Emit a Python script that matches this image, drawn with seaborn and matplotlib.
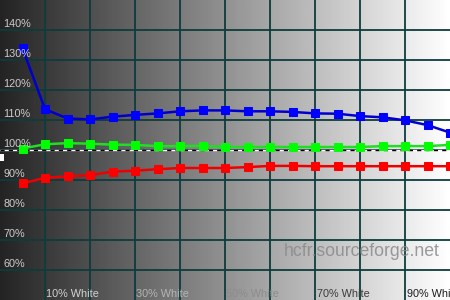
import numpy as np
import pandas as pd
import matplotlib
matplotlib.use("Agg")
import matplotlib.pyplot as plt
import matplotlib.patches as mpatches
import matplotlib.transforms as mtrans
import seaborn as sns

# ---- data ----
levels = [0, 5, 10, 15, 20, 25, 30, 35, 40, 45, 50, 55, 60, 65, 70, 75, 80, 85, 90, 95]
blue = [133.9, 113.6, 110.5, 110.2, 111.1, 111.7, 112.2, 112.9, 113.2, 113.2,
        112.9, 112.9, 112.7, 112.2, 112.1, 111.3, 110.9, 109.9, 108.3, 105.8]
green = [100.5, 101.9, 102.3, 102.1, 101.8, 101.7, 101.3, 101.3, 101.4, 101.0,
         101.0, 101.0, 101.0, 101.0, 101.0, 101.0, 101.3, 101.3, 101.3, 101.7]
red = [88.9, 90.7, 91.2, 91.6, 92.8, 93.1, 93.6, 94.0, 94.0, 94.0,
       94.3, 94.7, 94.7, 94.6, 94.6, 94.6, 94.6, 94.6, 94.6, 94.6]
y_ticks = [60, 70, 80, 90, 100, 110, 120, 130, 140]
y_labels = ["60%", "70%", "80%", "90%", "100%", "110%", "120%", "130%", "140%"]
x_ticks = [10, 30, 50, 70, 90]
x_labels = ["10% White", "30% White", "50% White", "70% White", "90% White"]
x_label_colors = ["#d2d2d2", "#b4b4b4", "#8c8c8c", "#3c3c3c", "#1e1e1e"]
x_grid = [5, 15, 25, 35, 45, 55, 65, 75, 85]

df = pd.DataFrame({"level": levels, "Blue": blue, "Green": green, "Red": red})

sns.set_theme(style="white")
plt.rcParams["font.family"] = ["Liberation Sans", "DejaVu Sans"]

fig = plt.figure(figsize=(4.5, 3.0), dpi=100)
ax = fig.add_axes([0, 0, 1, 1])
xlim = (-5, 95)
ylim = (50, 150)

# gradient background
grad = np.linspace(0.14, 1.0, 256).reshape(1, -1)
ax.imshow(grad, cmap="gray", vmin=0, vmax=1, extent=[xlim[0], xlim[1], ylim[0], ylim[1]],
          aspect="auto", zorder=0, interpolation="bilinear")

grid_color = "#0e3c3c"
for gx in x_grid:
    ax.axvline(gx, color=grid_color, lw=1.3, zorder=1)
for gy in y_ticks:
    ax.axhline(gy, color=grid_color, lw=1.3, zorder=1)

# 100% reference dashed line
ax.axhline(100, color="white", lw=1.0, zorder=2)
ax.axhline(100, color="black", lw=1.0, ls=(0, (3, 3)), zorder=2.1)
ax.add_patch(mpatches.Rectangle((0, 0.465), 0.008, 0.022, transform=ax.transAxes,
                                color="white", zorder=3, lw=0))

series = [("Red", "#ee0000", "#ff0000"), ("Green", "#22dd22", "#00ff00"),
          ("Blue", "#0000cc", "#0000ff")]
for name, lc, mc in series:
    sns.lineplot(data=df, x="level", y=name, ax=ax, color=lc, lw=1.8,
                 marker="s", markersize=5.5, markerfacecolor=mc, markeredgecolor=mc,
                 zorder=5)

ax.set_xlim(*xlim)
ax.set_ylim(*ylim)
ax.set_xticks([])
ax.set_yticks([])
ax.set_xlabel("")
ax.set_ylabel("")
for s in ax.spines.values():
    s.set_visible(False)

ytrans = mtrans.blended_transform_factory(ax.transAxes, ax.transData)
for v, lab in zip(y_ticks, y_labels):
    ax.text(3 / 450, v + 1.1, lab, transform=ytrans, ha="left", va="baseline",
            fontsize=7.8, color="#cccccc", zorder=6)

for v, lab, c in zip(x_ticks, x_labels, x_label_colors):
    ax.text(v + 1.2, 51.1, lab, ha="center", va="baseline", fontsize=7.8, color=c, zorder=6)

ax.text(0.978, 0.16, "hcfr.sourceforge.net", transform=ax.transAxes, ha="right",
        va="center", fontsize=12.7, color="#8a8a8a", alpha=0.85, zorder=4)

fig.savefig("out.png", dpi=100)
